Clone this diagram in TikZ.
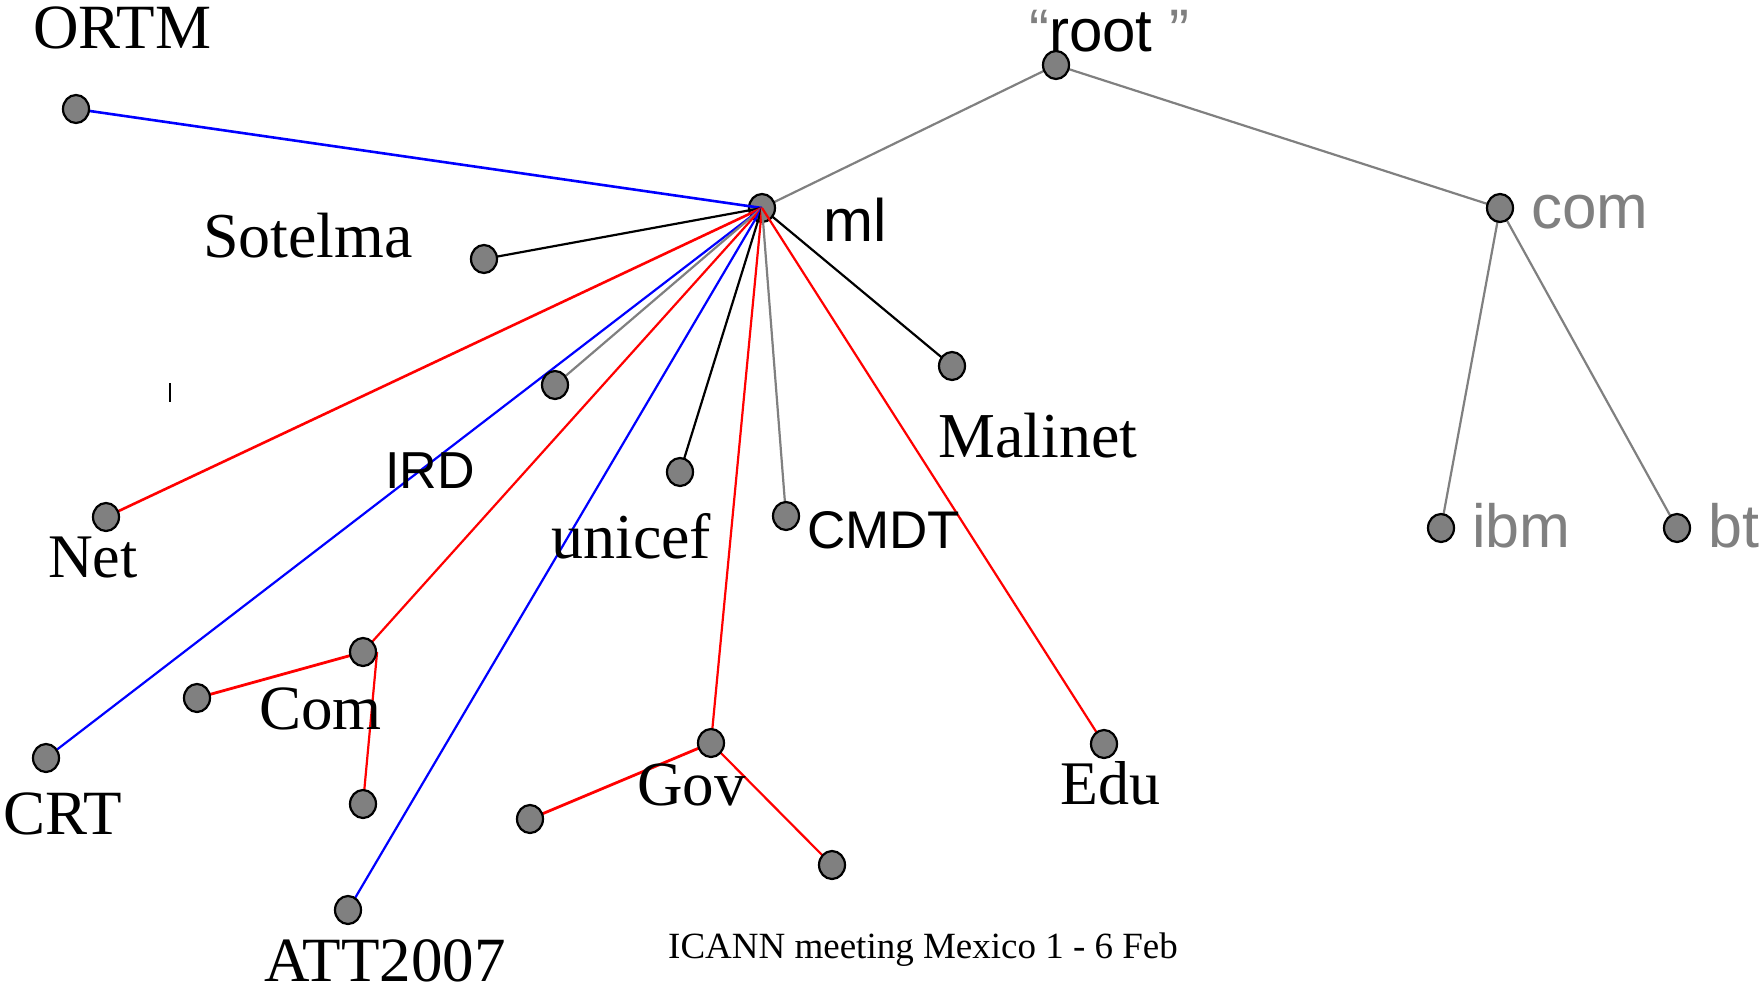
\documentclass[tikz,border=0pt]{standalone}
\usepackage{fontspec}
\setmainfont{Liberation Serif}
\setsansfont{Liberation Sans}
\usetikzlibrary{shapes.geometric}
\definecolor{dotgray}{RGB}{128,128,128}
\definecolor{lgray}{RGB}{128,128,128}
\pgfdeclarelayer{bg}
\pgfdeclarelayer{mlayer}
\pgfdeclarelayer{mid}
\pgfsetlayers{bg,mlayer,mid,main}
\tikzset{
  dot/.style={ellipse, draw=black, line width=2.2pt, fill=dotgray, minimum width=26pt, minimum height=28pt, inner sep=0pt},
  lab/.style={anchor=base west, inner sep=0pt, font=\fontsize{62}{70}\selectfont},
  slab/.style={anchor=base west, inner sep=0pt, font=\sffamily\fontsize{60}{70}\selectfont},
  edge/.style={line width=2.2pt},
  edgek/.style={edge, draw=black},
  edgeg/.style={edge, draw=lgray},
  edger/.style={edge, draw=red},
  edgeb/.style={edge, draw=blue},
}
\begin{document}
\begin{tikzpicture}[x=1pt,y=-1pt]
\useasboundingbox (0,0) rectangle (1760,987);
\clip (0,0) rectangle (1760,987);
% nodes
\begin{pgfonlayer}{mlayer}
\node[dot] (ml) at (762,208) {};
\end{pgfonlayer}
\node[dot] (root) at (1056,65) {};
\node[dot] (com) at (1500,208) {};
\node[dot] (ibm) at (1441,528) {};
\node[dot] (bt) at (1677,528) {};
\node[dot] (ORTM) at (76,109) {};
\node[dot] (Sotelma) at (484,259) {};
\node[dot] (IRD) at (555,385) {};
\node[dot] (Net) at (106,517) {};
\node[dot] (unicef) at (680,472) {};
\node[dot] (CMDT) at (786,516) {};
\node[dot] (Malinet) at (952,366) {};
\node[dot] (Com) at (363,652) {};
\node[dot] (Comc1) at (197,698) {};
\node[dot] (Comc2) at (363,804) {};
\node[dot] (CRT) at (46,758) {};
\node[dot] (ATT) at (348,910) {};
\node[dot] (Gov) at (711,743) {};
\node[dot] (Govc1) at (530,819) {};
\node[dot] (Govc2) at (832,865) {};
\node[dot] (Edu) at (1104,744) {};
% edges behind ml
\begin{pgfonlayer}{bg}
\draw[edgeg] (root.center) -- (ml.center);
\draw[edgeg] (root.center) -- (com.center);
\draw[edgeg] (com.center) -- (ibm.center);
\draw[edgeg] (com.center) -- (bt.center);
\draw[edgek] (ml.center) -- (Malinet.center);
\draw[edger, line width=2.8pt] (Com.center) -- (Comc1.center);
\draw[edger] (Com.east) -- (Comc2.center);
\draw[edger, line width=2.8pt] (Gov.center) -- (Govc1.center);
\draw[edger] (Gov.center) -- (Govc2.center);
\end{pgfonlayer}
% edges over ml
\begin{pgfonlayer}{mid}
\draw[edgeb, line width=2.6pt] (ml.center) -- (ORTM.center);
\draw[edgek] (ml.center) -- (Sotelma.center);
\draw[edger, line width=2.6pt] (ml.center) -- (Net.center);
\draw[edgeb] (ml.center) -- (CRT.center);
\draw[edgeg] (ml.center) -- (IRD.center);
\draw[edger] (ml.center) -- (Com.center);
\draw[edgeb] (ml.center) -- (ATT.center);
\draw[edgek] (ml.center) -- (unicef.center);
\draw[edger] (ml.center) -- (Gov.center);
\draw[edgeg] (ml.center) -- (CMDT.center);
\draw[edger] (ml.center) -- (Edu.center);
\end{pgfonlayer}
% labels
\node[lab, font=\fontsize{63}{70}\selectfont] (lORTM) at (33,49) {ORTM};
\node[lab, font=\fontsize{64}{70}\selectfont] (lSotelma) at (203,257) {Sotelma};
\node[slab] (lml) at (823,241) {ml};
\node[slab] (lroot) at (1029,52) {\textcolor{lgray}{“}root \textcolor{lgray}{”}};
\node[slab, text=lgray, font=\sffamily\fontsize{62}{70}\selectfont] (lcom) at (1531,228) {com};
\node[slab, text=lgray, font=\sffamily\fontsize{61}{70}\selectfont] (libm) at (1472,547) {ibm};
\node[slab, text=lgray, font=\sffamily\fontsize{61}{70}\selectfont] (lbt) at (1708,547) {bt};
\node[lab, font=\fontsize{64}{70}\selectfont] (lMalinet) at (938,457) {Malinet};
\node[slab, font=\sffamily\fontsize{53}{60}\selectfont] (lCMDT) at (807,548) {CMDT};
\node[slab, font=\sffamily\fontsize{52}{60}\selectfont] (lIRD) at (385,488) {IRD};
\node[lab] (lNet) at (48,577) {Net};
\node[lab, font=\fontsize{64}{70}\selectfont] (lunicef) at (551,558) {unicef};
\node[lab, font=\fontsize{63}{70}\selectfont] (lCom) at (259,729) {Com};
\node[lab, font=\fontsize{63}{70}\selectfont] (lCRT) at (3,834) {CRT};
\node[lab, font=\fontsize{63}{70}\selectfont] (lATT) at (264,981) {ATT2007};
\node[lab, font=\fontsize{63}{70}\selectfont] (lGov) at (637,805) {Gov};
\node[lab] (lEdu) at (1060,804) {Edu};
\node[lab, font=\fontsize{37}{42}\selectfont] (lICANN) at (668,958) {ICANN meeting Mexico 1 - 6 Feb};
% small stray tick
\draw[line width=2.5pt] (170,383) -- (170,402);
\end{tikzpicture}
\end{document}
